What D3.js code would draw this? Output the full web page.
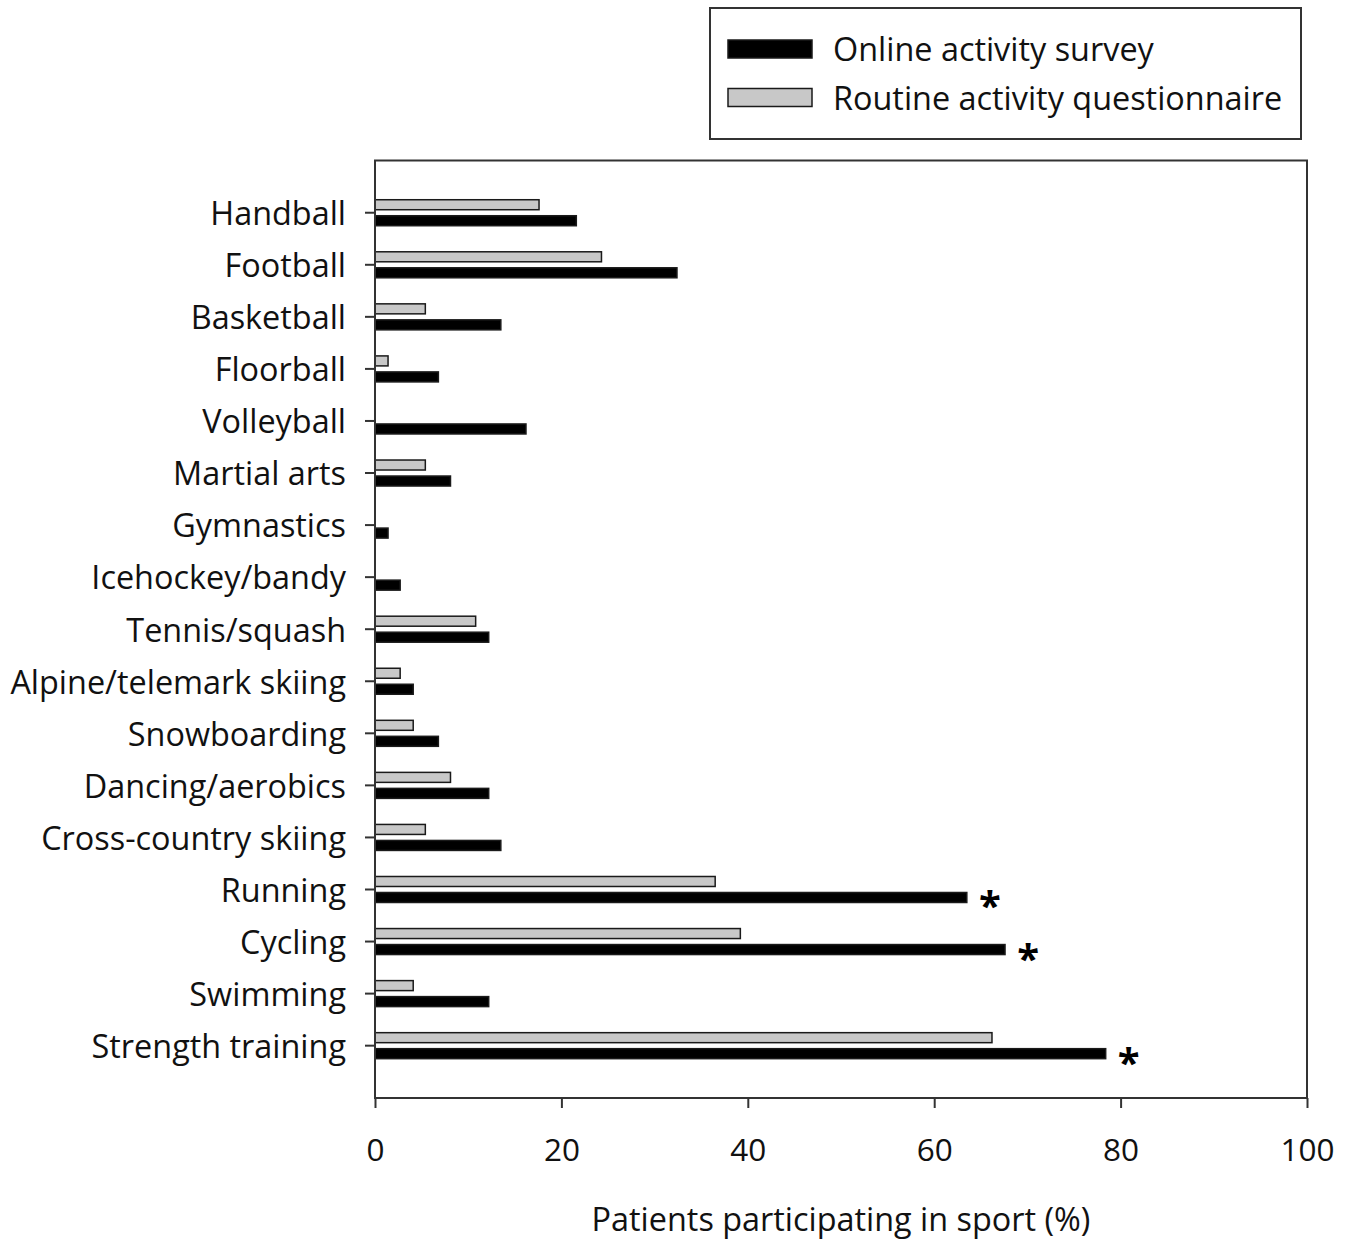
<!DOCTYPE html>
<html>
<head>
<meta charset="utf-8">
<script src="https://cdn.jsdelivr.net/npm/d3@7"></script>
<style>
  html, body { margin: 0; padding: 0; background: #fff; }
  svg { display: block; font-family: "Open Sans", Lato, sans-serif; }
</style>
</head>
<body>
<svg id="chart" width="1355" height="1239"></svg>
<script>
// Sports, listed top to bottom
const sports = [
  "Handball", "Football", "Basketball", "Floorball", "Volleyball",
  "Martial arts", "Gymnastics", "Icehockey/bandy", "Tennis/squash",
  "Alpine/telemark skiing", "Snowboarding", "Dancing/aerobics",
  "Cross-country skiing", "Running", "Cycling", "Swimming", "Strength training"
];

// Share of patients participating in each sport (%)
const onlineSurvey = [21.6, 32.4, 13.5, 6.8, 16.2, 8.1, 1.4, 2.7, 12.2, 4.1, 6.8, 12.2, 13.5, 63.5, 67.6, 12.2, 78.4];
const routineQuestionnaire = [17.6, 24.3, 5.4, 1.4, 0, 5.4, 0, 0, 10.8, 2.7, 4.1, 8.1, 5.4, 36.5, 39.2, 4.1, 66.2];

// Sports with a significant difference between the two sources
const significant = ["Running", "Cycling", "Strength training"];

const xTicks = [0, 20, 40, 60, 80, 100];

const seriesNames = ["Online activity survey", "Routine activity questionnaire"];
const seriesKeys = ["online", "routine"];

const FONT = "'Open Sans', Lato, sans-serif";
const LABEL_SIZE = 32.4;
const svg = d3.select("#chart");

const plot = { left: 375, right: 1307, top: 160.5, bottom: 1098 };

const x = d3.scaleLinear().domain([0, 100]).range([plot.left, plot.right]);

// one band per sport, centred on the category tick
const y = d3.scaleBand()
  .domain(sports)
  .range([186.7, 1071.7])
  .paddingInner(0)
  .paddingOuter(0);

// routine bar sits above the tick, online bar below
const sub = d3.scaleBand()
  .domain(["routine", "online"])
  .range([-13, 13])
  .paddingInner(0.375)
  .paddingOuter(0);

const rows = sports.map((s, i) => ({
  sport: s,
  online: onlineSurvey[i],
  routine: routineQuestionnaire[i]
}));

const fill = { online: "#000000", routine: "#c8c8c8" };

// bars
const g = svg.append("g");
const groups = g.selectAll("g.row")
  .data(rows)
  .join("g")
  .attr("class", "row")
  .attr("transform", d => `translate(0,${y(d.sport) + y.bandwidth() / 2})`);

groups.selectAll("rect")
  .data(d => ["routine", "online"].map(k => ({ key: k, value: d[k] })).filter(e => e.value > 0))
  .join("rect")
  .attr("x", x(0))
  .attr("y", d => sub(d.key))
  .attr("width", d => x(d.value) - x(0))
  .attr("height", sub.bandwidth())
  .attr("fill", d => fill[d.key])
  .attr("stroke", "#1a1a1a")
  .attr("stroke-width", 1.5);

// significance markers
groups.filter(d => significant.includes(d.sport))
  .append("text")
  .attr("x", d => x(d.online) + 23)
  .attr("y", sub("online") + sub.bandwidth() / 2 + 23)
  .attr("text-anchor", "middle")
  .attr("font-size", 40)
  .attr("font-weight", "bold")
  .attr("fill", "#000")
  .text("*");

// plot frame
svg.append("rect")
  .attr("x", plot.left)
  .attr("y", plot.top)
  .attr("width", plot.right - plot.left)
  .attr("height", plot.bottom - plot.top)
  .attr("fill", "none")
  .attr("stroke", "#333")
  .attr("stroke-width", 2);

// x axis
const xAxis = svg.append("g")
  .attr("transform", `translate(0,${plot.bottom})`)
  .call(d3.axisBottom(x).tickValues(xTicks).tickSize(10).tickPadding(31).tickFormat(d3.format("d")));
xAxis.select(".domain").remove();
xAxis.selectAll("line").attr("stroke", "#333").attr("stroke-width", 2);
xAxis.selectAll("text").attr("font-size", 31.5).attr("fill", "#111").attr("font-family", FONT);

// y axis
const yAxis = svg.append("g")
  .attr("transform", `translate(${plot.left},0)`)
  .call(d3.axisLeft(y).tickSize(10).tickPadding(19));
yAxis.select(".domain").remove();
yAxis.selectAll("line").attr("stroke", "#333").attr("stroke-width", 2);
yAxis.selectAll("text").attr("font-size", LABEL_SIZE).attr("fill", "#111").attr("font-family", FONT).attr("dy", "0.38em");

// x axis title
svg.append("text")
  .attr("x", (plot.left + plot.right) / 2)
  .attr("y", 1231)
  .attr("text-anchor", "middle")
  .attr("font-size", LABEL_SIZE)
  .attr("fill", "#111")
  .text("Patients participating in sport (%)");

// legend
const legend = svg.append("g");
legend.append("rect")
  .attr("x", 710).attr("y", 8)
  .attr("width", 591).attr("height", 131)
  .attr("fill", "#fff")
  .attr("stroke", "#333").attr("stroke-width", 2);

const legendItems = legend.selectAll("g.item")
  .data(seriesKeys.map((k, i) => ({ key: k, name: seriesNames[i] })))
  .join("g")
  .attr("class", "item")
  .attr("transform", (d, i) => `translate(728,${40 + i * 48.5})`);

legendItems.append("rect")
  .attr("width", 84).attr("height", 18)
  .attr("fill", d => fill[d.key])
  .attr("stroke", "#1a1a1a").attr("stroke-width", 1.5);

legendItems.append("text")
  .attr("x", 105)
  .attr("y", 9)
  .attr("dy", "0.38em")
  .attr("font-size", LABEL_SIZE)
  .attr("fill", "#111")
  .text(d => d.name);
</script>
</body>
</html>
